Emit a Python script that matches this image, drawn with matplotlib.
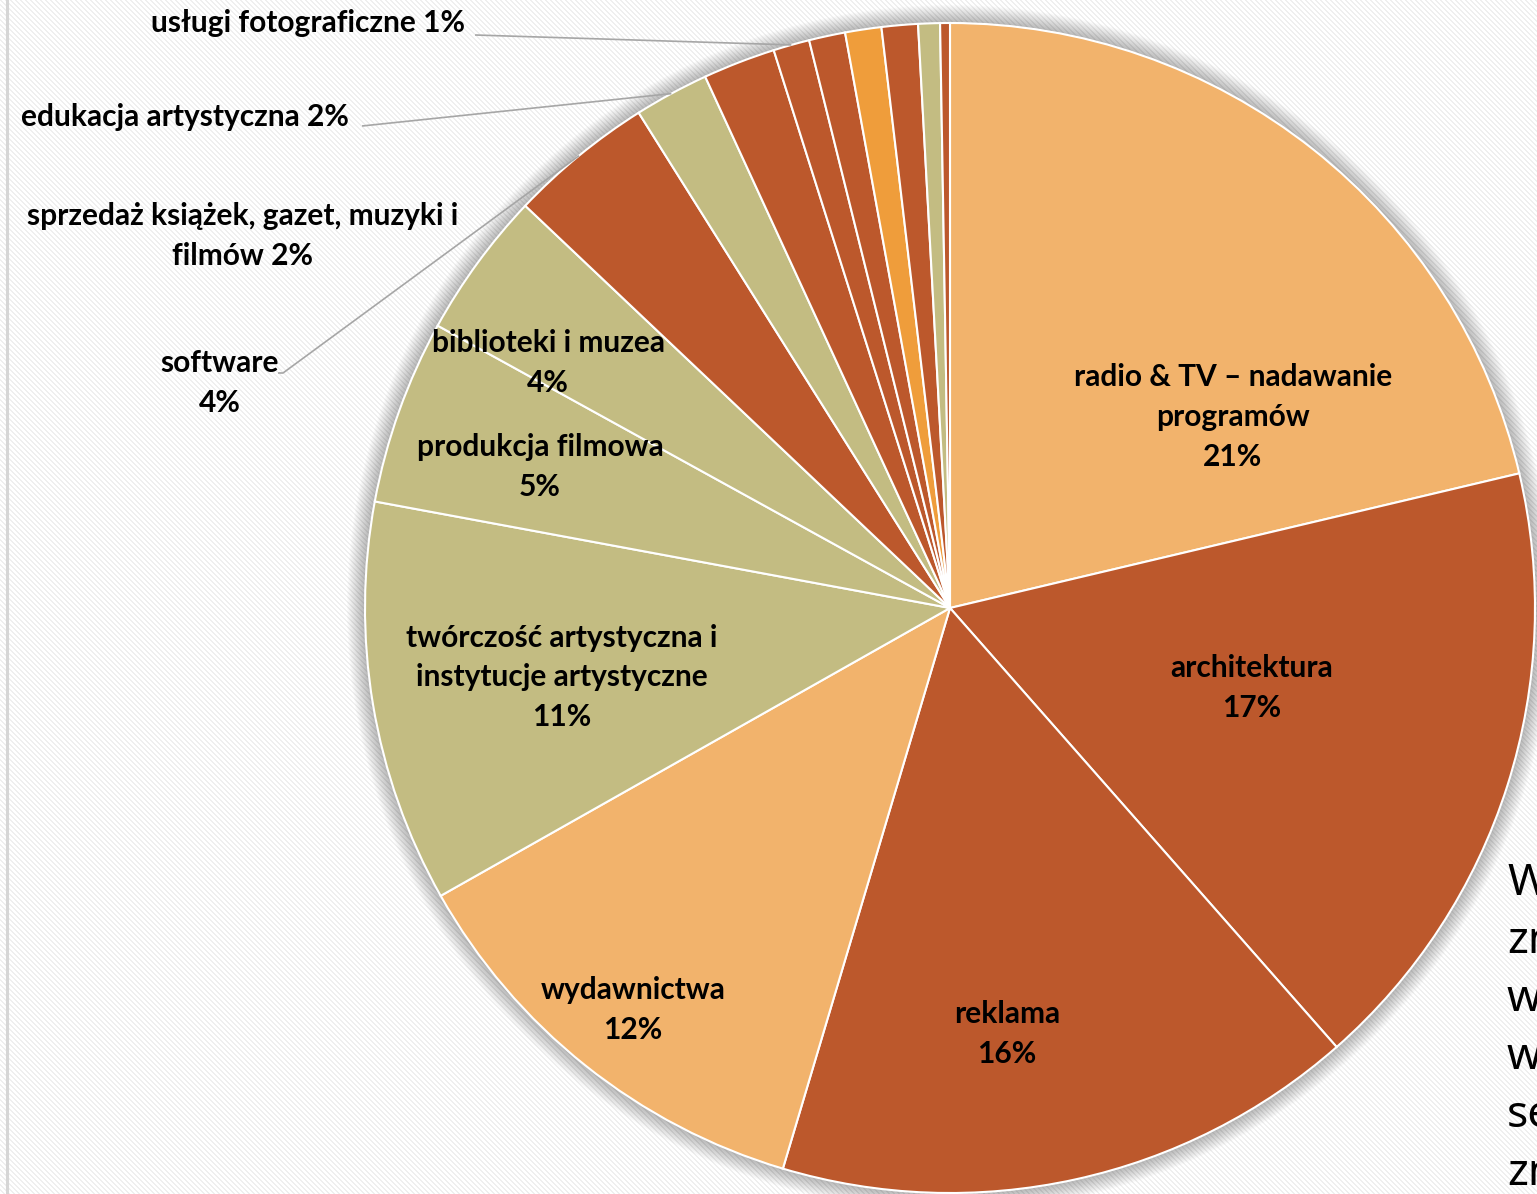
import numpy as np
import matplotlib
matplotlib.use('Agg')
import matplotlib.pyplot as plt
from matplotlib.patches import Circle

# slice shares (%) clockwise from 12 o'clock
names = ['radio & TV – nadawanie\nprogramów', 'architektura', 'reklama', 'wydawnictwa',
         'twórczość artystyczna i\ninstytucje artystyczne', 'produkcja filmowa',
         'biblioteki i muzea', 'software', 'edukacja artystyczna',
         'sprzedaż książek, gazet, muzyki i\nfilmów', 'usługi fotograficzne',
         '', '', '', '', '']
shares = [21.3, 17.2, 16.1, 12.2, 11.1, 5.1, 4.05, 4.0, 2.06, 2.0, 1.0, 1.0, 1.0, 1.0, 0.6, 0.27]
groups = ['lo', 'r', 'r', 'lo', 'ol', 'ol', 'ol', 'r', 'ol', 'r', 'r', 'r', 'bo', 'r', 'ol', 'r']
side_text = ['W', 'zn', 'w', 'w', 'se', 'zn']

palette = {'lo': '#F2B36C', 'r': '#BC582C', 'ol': '#C3BC82', 'bo': '#EF9D3B'}

W, H = 1537, 1194
CX, CY, R = 950, 608, 585


def fy(y):
    # pixel row -> data y
    return H - y


fig = plt.figure(figsize=(W / 100, H / 100), dpi=100)
ax = fig.add_axes([0, 0, 1, 1])

# faint diagonal stripe background
rows, cols = np.mgrid[0:H, 0:W]
stripe = ((cols - rows) % 5) < 2
bg = np.ones((H, W, 3))
bg[stripe] = 0.94
ax.imshow(bg, extent=(0, W, 0, H), origin='upper', zorder=0, interpolation='nearest')
ax.plot([7, 7], [0, H], color='#d6d6d6', lw=2.2, zorder=1)

# soft glow around the pie
for k in range(18, 0, -1):
    ax.add_patch(Circle((CX, fy(CY)), R + k, color='black', alpha=0.015, lw=0, zorder=1))

wedges, _ = ax.pie(shares, colors=[palette[g] for g in groups], startangle=90,
                   counterclock=False, center=(CX, fy(CY)), radius=R,
                   wedgeprops=dict(edgecolor='white', linewidth=1.5))
for w in wedges:
    w.set_zorder(2)

ax.set_xlim(0, W)
ax.set_ylim(0, H)
ax.set_aspect('equal')
ax.axis('off')

font = dict(family=['Lato', 'DejaVu Sans'], fontsize=21.5, fontweight='bold', color='black',
            ha='center', va='center', linespacing=1.5, zorder=5)

# label block centres (pixels)
label_pos = {0: (1233, 417), 1: (1252, 688), 2: (1007, 1034), 3: (633, 1010),
             4: (562, 677), 5: (540, 467), 6: (548, 363), 7: (220, 383),
             8: (185, 117), 9: (243, 236), 10: (308, 23)}
for i, (x, y) in label_pos.items():
    pct = f'{round(shares[i])}%'
    if i in (8, 9, 10):
        txt = f'{names[i]} {pct}'
    else:
        txt = f'{names[i]}\n{pct}'
    ax.text(x, fy(y), txt, **font)

# leader lines to wedge mid points on the rim
leaders = {7: [(278, 373), (283, 373)], 8: [(362, 126)], 10: [(475, 35)]}
for i, pts in leaders.items():
    w = wedges[i]
    mid = np.deg2rad((w.theta1 + w.theta2) / 2)
    ex, ey = CX + R * np.cos(mid), fy(CY) + R * np.sin(mid)
    xs = [p[0] for p in pts] + [ex]
    ys = [fy(p[1]) for p in pts] + [ey]
    ax.plot(xs, ys, color='#a6a6a6', lw=1.2, zorder=4, solid_capstyle='butt')

# slide text running off the right edge, as in the source
for j, s in enumerate(side_text):
    ax.text(1507, fy(895 + j * 58), s, family=['Noto Sans', 'DejaVu Sans'], fontsize=32,
            ha='left', va='baseline', color='black', zorder=5)

fig.savefig('out.png', dpi=100)
